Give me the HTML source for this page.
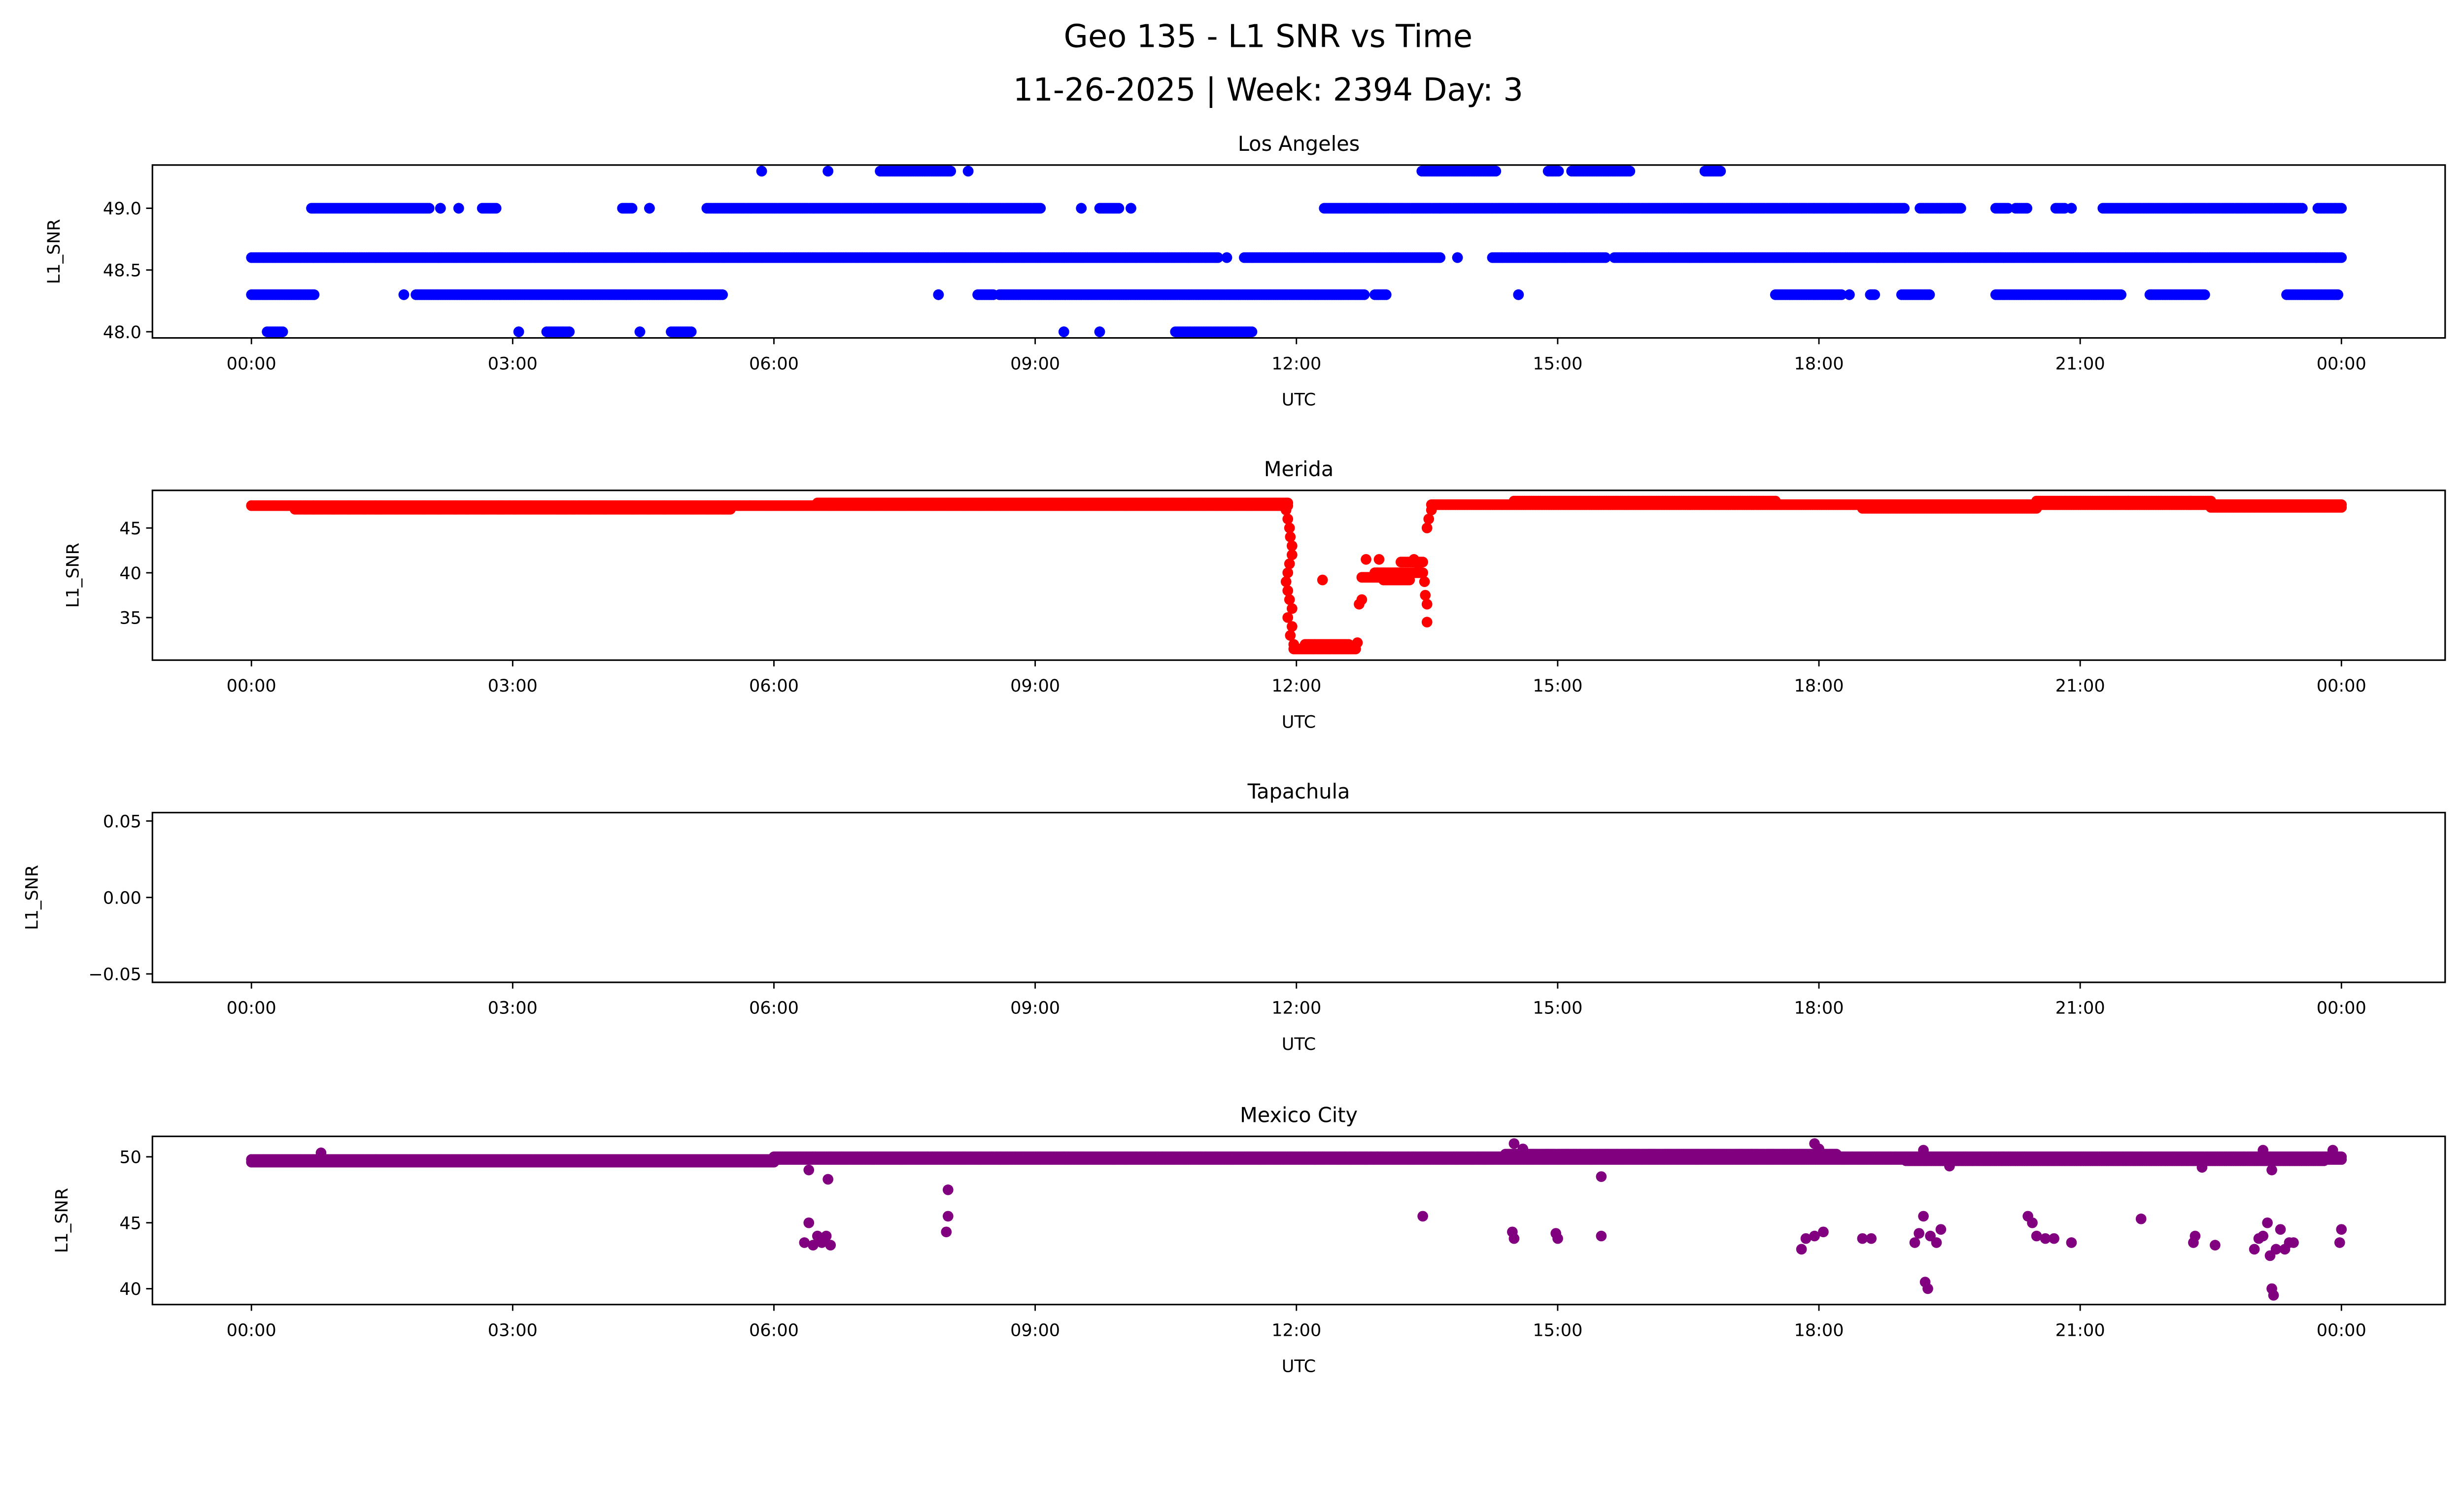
<!DOCTYPE html>
<html><head><meta charset="utf-8"><style>
html,body{margin:0;padding:0;background:#fff;overflow:hidden}
svg{display:block;width:100vw;height:56.95vw;font-family:"DejaVu Sans","Liberation Sans",sans-serif}
</style></head><body>
<svg id="fig" viewBox="0 0 1568 893" preserveAspectRatio="none" xmlns="http://www.w3.org/2000/svg">
<rect width="1568" height="893" fill="#fff"/>
<text x="807" y="30" font-size="20" text-anchor="middle">Geo 135 - L1 SNR vs Time</text>
<text x="807" y="64" font-size="20" text-anchor="middle">11-26-2025 | Week: 2394 Day: 3</text>
<g id="plots"></g>
</svg>
<script>
// ---- data (hours UTC, value) ----
// Los Angeles runs: [startHour, endHour, snr]
const laRuns = [
 [0,11.1,48.6],[11.2,11.2,48.6],[11.4,13.65,48.6],[13.85,13.85,48.6],[14.25,15.55,48.6],[15.65,24,48.6],
 [0.69,2.04,49.0],[2.17,2.17,49.0],[2.38,2.38,49.0],[2.65,2.81,49.0],[4.26,4.37,49.0],[4.57,4.57,49.0],[5.23,9.06,49.0],[9.53,9.53,49.0],[9.74,9.96,49.0],[10.1,10.1,49.0],[12.32,18.98,49.0],[19.16,19.63,49.0],[20.03,20.17,49.0],[20.26,20.39,49.0],[20.72,20.82,49.0],[20.9,20.9,49.0],[21.26,23.55,49.0],[23.73,24,49.0],
 [0,0.72,48.3],[1.75,1.75,48.3],[1.89,5.41,48.3],[7.89,7.89,48.3],[8.34,8.52,48.3],[8.59,12.78,48.3],[12.9,13.03,48.3],[14.55,14.55,48.3],[17.5,18.26,48.3],[18.35,18.35,48.3],[18.59,18.64,48.3],[18.95,19.27,48.3],[20.03,21.47,48.3],[21.8,22.43,48.3],[23.37,23.96,48.3],
 [0.18,0.36,48.0],[3.07,3.07,48.0],[3.39,3.65,48.0],[4.46,4.46,48.0],[4.82,5.05,48.0],[9.33,9.33,48.0],[9.74,9.74,48.0],[10.61,11.49,48.0],
 [5.86,5.86,49.3],[6.62,6.62,49.3],[7.22,8.03,49.3],[8.23,8.23,49.3],[13.44,14.29,49.3],[14.89,15.01,49.3],[15.16,15.83,49.3],[16.69,16.87,49.3]
];
const meridaRuns = [
 [0,11.9,47.5],[0.5,5.5,47.1],[6.5,11.9,47.8],[1.5,4.5,47.3],
 [11.97,12.68,31.5],[12.1,12.6,32.0],[12.75,13.0,39.5],[12.9,13.45,40.0],[13.0,13.3,39.2],[13.2,13.45,41.2],
 [13.55,24,47.6],[14.5,17.5,48.0],[18.5,20.5,47.2],[20.5,22.5,48.0],[22.5,24,47.3]
];
const meridaPts = [
 [11.88,47],[11.9,46],[11.92,45],[11.93,44],[11.95,43],[11.95,42],[11.92,41],[11.9,40],[11.88,39],[11.9,38],[11.92,37],[11.95,36],[11.9,35],[11.95,34],[11.93,33],[11.97,32],
 [12.3,39.2],[12.7,32.2],[12.72,36.5],[12.75,37],[12.8,41.5],[12.95,41.5],[13.35,41.5],[13.4,41],
 [13.47,39],[13.48,37.5],[13.5,36.5],[13.5,34.5],[13.5,45],[13.52,46],[13.55,47]
];
const mexRuns = [
 [0,24,49.8],[0,6,49.6],[6,24,50.0],[14.4,18.2,50.2],[19,23.8,49.7]
];
const mexPts = [
 [0.8,50.3],[14.5,51],[14.6,50.6],[17.95,51],[18.0,50.6],[19.2,50.5],[23.1,50.5],[23.9,50.5],[22.4,49.2],[23.2,49],[19.5,49.3],
 [6.35,43.5],[6.4,45],[6.45,43.3],[6.5,44],[6.55,43.5],[6.6,44],[6.65,43.3],[6.62,48.3],[6.4,49],
 [7.98,44.3],[8.0,45.5],[8.0,47.5],
 [13.45,45.5],[14.48,44.3],[14.5,43.8],[14.98,44.2],[15.0,43.8],[15.5,44],[15.5,48.5],
 [17.8,43],[17.85,43.8],[17.95,44],[18.05,44.3],[18.5,43.8],[18.6,43.8],
 [19.1,43.5],[19.15,44.2],[19.2,45.5],[19.22,40.5],[19.25,40],[19.28,44],[19.35,43.5],[19.4,44.5],
 [20.4,45.5],[20.45,45],[20.5,44],[20.6,43.8],[20.7,43.8],[20.9,43.5],[21.7,45.3],[22.3,43.5],[22.32,44],[22.55,43.3],
 [23.0,43],[23.05,43.8],[23.1,44],[23.15,45],[23.18,42.5],[23.2,40],[23.22,39.5],[23.25,43],[23.3,44.5],[23.35,43],[23.4,43.5],[23.45,43.5],
 [23.98,43.5],[24,44.5]
];
const xTickLabels = ["00:00","03:00","06:00","09:00","12:00","15:00","18:00","21:00","00:00"];
const panelTitles = ["Los Angeles","Merida","Tapachula","Mexico City"];
const laTicks = [48.0,48.5,49.0];
const meridaTicks = [35,40,45];
const tapTicks = [-0.05,0.00,0.05];
const mexTicks = [40,45,50];

const NS="http://www.w3.org/2000/svg";
const root=document.getElementById('plots');
function mk(tag,attrs,parent){const e=document.createElementNS(NS,tag);for(const k in attrs)e.setAttribute(k,attrs[k]);(parent||root).appendChild(e);return e;}
const L=97,R=1556;
const xs=h=>160+h/24*1330;

const panels=[
 {top:105,bot:215,ymin:47.95,ymax:49.35,ticks:laTicks,fmt:v=>v.toFixed(1),runs:laRuns,pts:[],color:"#0000ff",ylx:38,name:"los-angeles"},
 {top:312,bot:420,ymin:30.25,ymax:49.2,ticks:meridaTicks,fmt:v=>String(v),runs:meridaRuns,pts:meridaPts,color:"#ff0000",ylx:50,name:"merida"},
 {top:517,bot:625,ymin:-0.0555,ymax:0.0555,ticks:tapTicks,fmt:v=>(v<0?"\u22120.05":v.toFixed(2)),runs:[],pts:[],color:"#000",ylx:24,name:"tapachula"},
 {top:723,bot:830,ymin:38.8,ymax:51.55,ticks:mexTicks,fmt:v=>String(v),runs:mexRuns,pts:mexPts,color:"#800080",ylx:43,name:"mexico-city"}
];
panels.forEach((p,i)=>{
 const g=mk('g',{});
 
 
 const ys=v=>p.bot-(v-p.ymin)/(p.ymax-p.ymin)*(p.bot-p.top);
 const t=mk('text',{x:(L+R)/2,y:p.top-9,'font-size':13,'text-anchor':'middle'},g);t.textContent=panelTitles[i];
 
 
 const dots=mk('g',{fill:p.color},g);
 
 
 p.runs.forEach(r=>{
  const n=Math.max(1,Math.round((r[1]-r[0])/0.02));
  for(let k=0;k<=n;k++){const h=r[0]+(r[1]-r[0])*k/n;
   const c=mk('circle',{cx:xs(h).toFixed(1),cy:ys(r[2]).toFixed(1),r:3.4},dots);
   
   }
 });
 p.pts.forEach(q=>{const c=mk('circle',{cx:xs(q[0]).toFixed(1),cy:ys(q[1]).toFixed(1),r:3.4},dots);
  
  });
 const fr=mk('rect',{x:L,y:p.top,width:R-L,height:p.bot-p.top,fill:'none',stroke:'#000','stroke-width':1},g);
 
 
 xTickLabels.forEach((lab,k)=>{const x=xs(k*3);
  mk('line',{x1:x,x2:x,y1:p.bot,y2:p.bot+4,stroke:'#000','stroke-width':0.9},g);
  const tt=mk('text',{x:x,y:p.bot+20,'font-size':11,'text-anchor':'middle'},g);tt.textContent=lab;
  
  });
 p.ticks.forEach(v=>{const y=ys(v);
  mk('line',{x1:L-4,x2:L,y1:y,y2:y,stroke:'#000','stroke-width':0.9},g);
  const tt=mk('text',{x:L-7,y:y+4,'font-size':11,'text-anchor':'end'},g);tt.textContent=p.fmt(v);
  
  });
 const xl=mk('text',{x:(L+R)/2,y:p.bot+43,'font-size':11,'text-anchor':'middle'},g);xl.textContent="UTC";
 
 
 const cy=(p.top+p.bot)/2;
 const yl=mk('text',{x:p.ylx,y:cy,'font-size':11,'text-anchor':'middle',transform:`rotate(-90 ${p.ylx} ${cy})`},g);yl.textContent="L1_SNR";
 
 
});
</script>
</body></html>
